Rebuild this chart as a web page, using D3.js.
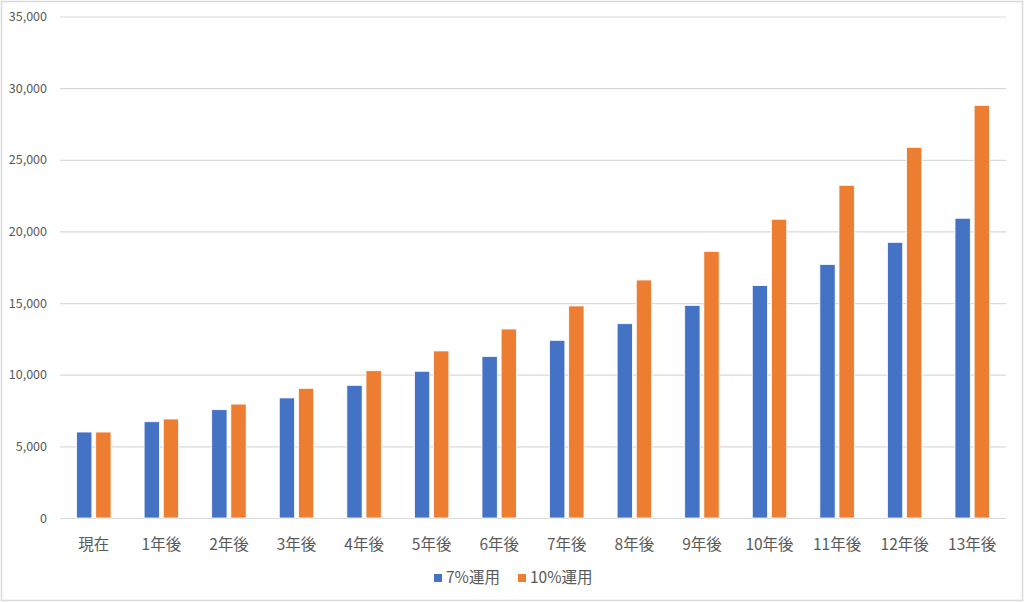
<!DOCTYPE html>
<html>
<head>
<meta charset="utf-8">
<script src="https://cdn.jsdelivr.net/npm/d3@7"></script>
<style>
  body { margin: 0; background: #fff; }
  text { font-family: "Noto Sans CJK JP", "Noto Sans", sans-serif; }
</style>
</head>
<body>
<div id="chart"></div>
<script>
// data
const categories = ["現在", "1年後", "2年後", "3年後", "4年後", "5年後", "6年後",
    "7年後", "8年後", "9年後", "10年後", "11年後", "12年後", "13年後"];
const series = ["7%運用", "10%運用"];
const values7 = [6000, 6720, 7560, 8380, 9260, 10240, 11280, 12400, 13560, 14840, 16220, 17700, 19240, 20920];
const values10 = [6000, 6910, 7950, 9050, 10280, 11660, 13190, 14800, 16610, 18610, 20850, 23220, 25870, 28800];
const yTicks = [0, 5000, 10000, 15000, 20000, 25000, 30000, 35000];
const colors = ["#4472C4", "#ED7D31"];

const W = 1024, H = 602;
const margin = {top: 16.5, right: 18, bottom: 84, left: 60};
const width = W - margin.left - margin.right,
    height = H - margin.top - margin.bottom;

const root = d3.select("#chart").append("svg")
    .attr("width", W)
    .attr("height", H);

// outer chart border
root.append("rect")
    .attr("x", 1.5).attr("y", 1.5)
    .attr("width", W - 3).attr("height", H - 3)
    .attr("fill", "#fff")
    .attr("stroke", "#d9d9d9")
    .attr("stroke-width", 1.5);

const svg = root.append("g")
    .attr("transform", `translate(${margin.left},${margin.top})`);

const data = categories.map((c, i) => ({cat: c, [series[0]]: values7[i], [series[1]]: values10[i]}));

const x = d3.scaleBand()
    .domain(categories)
    .range([0, width])
    .paddingInner(0.49)
    .paddingOuter(0.245);

const xSub = d3.scaleBand()
    .domain(series)
    .range([0, x.bandwidth()])
    .paddingInner(0.2);

const y = d3.scaleLinear()
    .domain([0, 35000])
    .range([height, 0]);

const color = d3.scaleOrdinal().domain(series).range(colors);

// gridlines + y labels
const yAxis = svg.append("g")
    .call(d3.axisLeft(y).tickValues(yTicks).tickSize(-width).tickFormat(d3.format(",")));
yAxis.select(".domain").remove();
yAxis.selectAll(".tick line").attr("stroke", "#d9d9d9").attr("stroke-width", 1.2);
yAxis.selectAll(".tick text")
    .attr("x", -13)
    .attr("fill", "#595959")
    .style("font-size", "12.5px");

// x labels
const xAxis = svg.append("g")
    .attr("transform", `translate(0,${height})`)
    .call(d3.axisBottom(x).tickSize(0));
xAxis.select(".domain").remove();
xAxis.selectAll(".tick text")
    .attr("dy", "1.85em")
    .attr("fill", "#595959")
    .style("font-size", "15.5px");

// bars
svg.append("g")
    .selectAll("g")
    .data(data)
    .join("g")
    .attr("transform", d => `translate(${x(d.cat)},0)`)
    .selectAll("rect")
    .data(d => series.map(k => ({key: k, value: d[k]})))
    .join("rect")
    .attr("x", d => xSub(d.key))
    .attr("y", d => y(d.value))
    .attr("width", xSub.bandwidth())
    .attr("height", d => height - y(d.value))
    .attr("fill", d => color(d.key))
    .attr("stroke", "#fff")
    .attr("stroke-width", 0.8);

// legend
const legend = root.append("g").attr("transform", "translate(0,578)");
const legendX = [434, 518];
series.forEach((s, i) => {
    legend.append("rect")
        .attr("x", legendX[i]).attr("y", -4)
        .attr("width", 8).attr("height", 8)
        .attr("fill", colors[i]);
    legend.append("text")
        .attr("x", legendX[i] + 12)
        .attr("y", 0)
        .attr("dy", "0.35em")
        .attr("fill", "#595959")
        .style("font-size", "15.5px")
        .text(s);
});
</script>
</body>
</html>
